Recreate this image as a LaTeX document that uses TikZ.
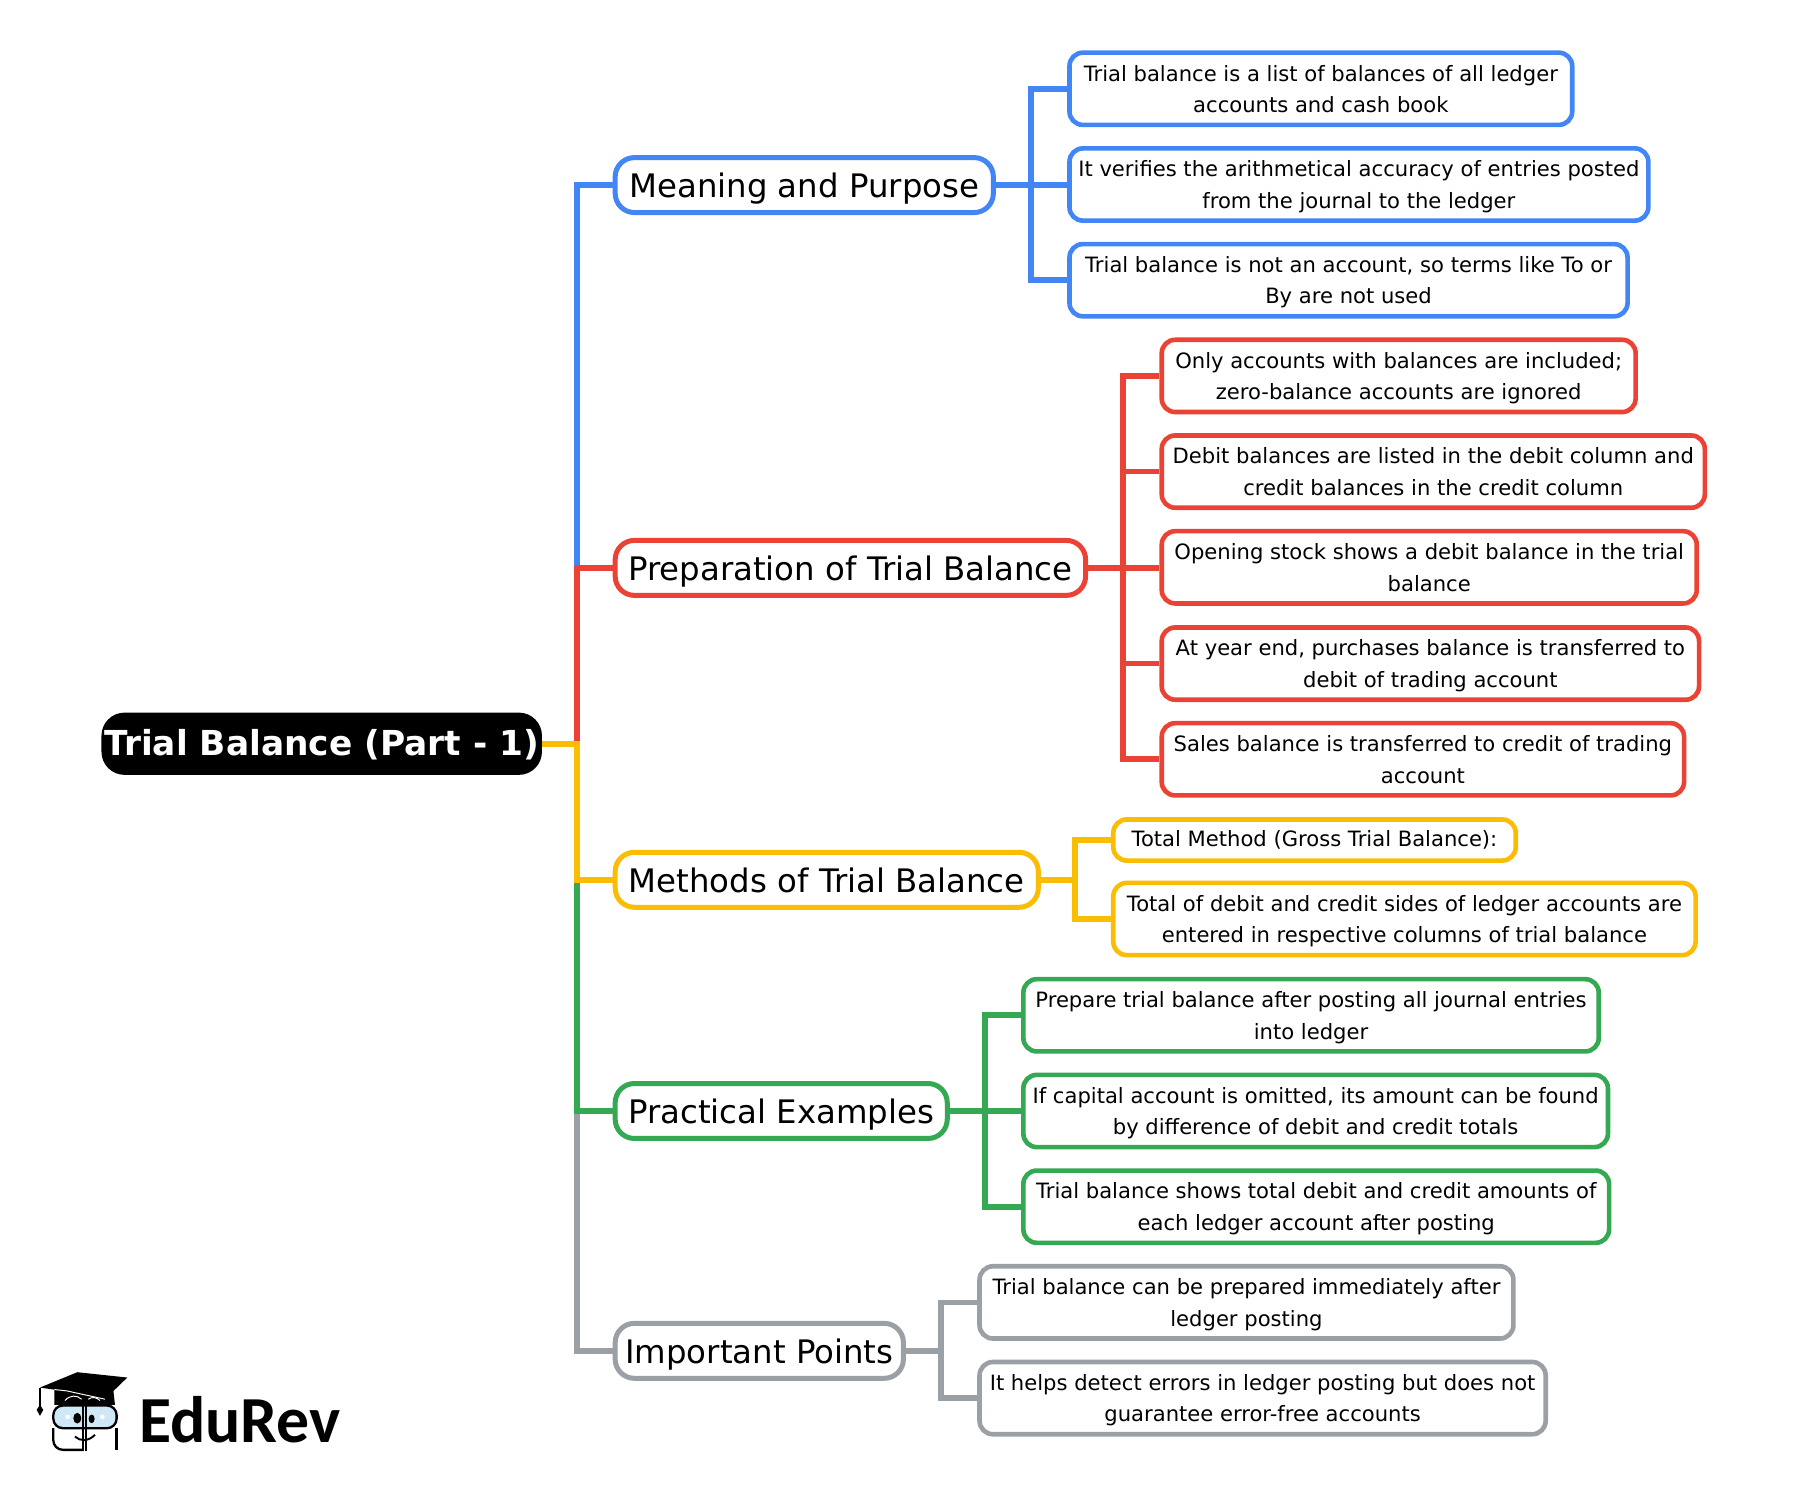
\documentclass[tikz,border=0pt]{standalone}
\usepackage{fontspec}
\setmainfont{DejaVu Sans}
\newfontfamily\logofont{Carlito}
\definecolor{mapblue}{HTML}{4285F4}
\definecolor{mapred}{HTML}{EA4335}
\definecolor{mapyellow}{HTML}{FBBC04}
\definecolor{mapgreen}{HTML}{34A853}
\definecolor{mapgray}{HTML}{9AA0A6}
\definecolor{glasses}{HTML}{CFE8F7}
\tikzset{
    rootbox/.style={fill=black, text=white, rounded corners=12pt, inner sep=0pt, minimum width=229.2pt, minimum height=32.4pt, text height=14pt, text depth=1.4pt, font=\fontsize{17.9}{20}\selectfont\bfseries},
    branchbox/.style={draw=#1, fill=white, line width=2.6pt, rounded corners=10pt, inner sep=0pt, minimum height=28.6pt, text height=14pt, text depth=1pt, font=\fontsize{16.85}{20}\selectfont},
    leafbox/.style={draw=#1, fill=white, line width=2.4pt, rounded corners=7pt, inner sep=0pt, minimum height=37.6pt, text depth=0pt, align=center, font=\fontsize{10.98}{16.4}\selectfont},
    link/.style={draw=#1, line width=3pt},
}
\begin{document}
\begin{tikzpicture}[x=0.6pt, y=-0.6pt]
    \useasboundingbox (0,0) rectangle (1568,1289.6);

    %centre
    \node[rootbox] (root) at (279,645) {Trial Balance (Part - 1)};

    %branches
    \node[branchbox=mapblue, minimum width=196.8pt] (meaning) at (697.5,160.5) {Meaning and Purpose};
    \node[branchbox=mapred, minimum width=244.8pt] (preparation) at (737.5,492.5) {Preparation of Trial Balance};
    \node[branchbox=mapyellow, minimum width=220.2pt] (methods) at (717,763) {Methods of Trial Balance};
    \node[branchbox=mapgreen, minimum width=172.8pt] (practical) at (677.5,963.5) {Practical Examples};
    \node[branchbox=mapgray, minimum width=150pt] (important) at (658.5,1171.5) {Important Points};

    %Meaning and Purpose
    \node[leafbox=mapblue, minimum width=261.6pt] (meaningA) at (1145.5,77) {Trial balance is a list of balances of all ledger\\accounts and cash book};
    \node[leafbox=mapblue, minimum width=301.2pt] (meaningB) at (1178.5,160) {It verifies the arithmetical accuracy of entries posted\\from the journal to the ledger};
    \node[leafbox=mapblue, minimum width=290.4pt] (meaningC) at (1169.5,243) {Trial balance is not an account, so terms like To or\\By are not used};

    %Preparation
    \node[leafbox=mapred, minimum width=246.6pt] (preparationA) at (1213,326) {Only accounts with balances are included;\\zero-balance accounts are ignored};
    \node[leafbox=mapred, minimum width=282.6pt] (preparationB) at (1243,409) {Debit balances are listed in the debit column and\\credit balances in the credit column};
    \node[leafbox=mapred, minimum width=278.4pt] (preparationC) at (1239.5,492) {Opening stock shows a debit balance in the trial\\balance};
    \node[leafbox=mapred, minimum width=279.6pt] (preparationD) at (1240.5,575.5) {At year end, purchases balance is transferred to\\debit of trading account};
    \node[leafbox=mapred, minimum width=271.8pt] (preparationE) at (1234,658.5) {Sales balance is transferred to credit of trading\\account};

    %Methods
    \node[leafbox=mapyellow, minimum width=209.4pt, minimum height=21.4pt, text depth=2pt] (methodsA) at (1140,728.5) {Total Method (Gross Trial Balance):};
    \node[leafbox=mapyellow, minimum width=303pt] (methodsB) at (1218,797) {Total of debit and credit sides of ledger accounts are\\entered in respective columns of trial balance};

    %Practical Examples
    \node[leafbox=mapgreen, minimum width=299.4pt] (practicalA) at (1137,880.5) {Prepare trial balance after posting all journal entries\\into ledger};
    \node[leafbox=mapgreen, minimum width=304.2pt] (practicalB) at (1141,963.5) {If capital account is omitted, its amount can be found\\by difference of debit and credit totals};
    \node[leafbox=mapgreen, minimum width=304.8pt] (practicalC) at (1141.5,1046.5) {Trial balance shows total debit and credit amounts of\\each ledger account after posting};

    %Important Points
    \node[leafbox=mapgray, minimum width=277.8pt] (importantA) at (1081,1129.5) {Trial balance can be prepared immediately after\\ledger posting};
    \node[leafbox=mapgray, minimum width=294.6pt] (importantB) at (1095,1212.5) {It helps detect errors in ledger posting but does not\\guarantee error-free accounts};

    %trunk
    \coordinate (trunk) at (500.5,645);
    \draw[link=mapgray] (practical.west -| trunk) |- (important.west);
    \draw[link=mapgreen] (methods.west -| trunk) |- (practical.west);
    \draw[link=mapblue] (preparation.west -| trunk) |- (meaning.west);
    \draw[link=mapred] (trunk) |- (preparation.west);
    \draw[link=mapyellow] (root.east) -- (trunk) |- (methods.west);

    %spines
    \coordinate (spineM) at (894,160.5);
    \draw[link=mapblue] (meaning.east) -- (meaning.east -| meaningB.west);
    \draw[link=mapblue] (meaningA.west) -| (spineM) |- (meaningC.west);
    \coordinate (spineP) at (974,492.5);
    \draw[link=mapred] (preparation.east) -- (preparation.east -| preparationC.west);
    \draw[link=mapred] (preparationA.west) -| (spineP) |- (preparationE.west);
    \draw[link=mapred] (preparationB.west) -- (preparationB.west -| spineP);
    \draw[link=mapred] (preparationD.west) -- (preparationD.west -| spineP);
    \coordinate (spineT) at (932,763);
    \draw[link=mapyellow] (methods.east) -- (spineT);
    \draw[link=mapyellow] (methodsA.west) -| (spineT) |- (methodsB.west);
    \coordinate (spineE) at (854,963.5);
    \draw[link=mapgreen] (practical.east) -- (practicalB.west);
    \draw[link=mapgreen] (practicalA.west) -| (spineE) |- (practicalC.west);
    \coordinate (spineI) at (816,1171.5);
    \draw[link=mapgray] (important.east) -- (spineI);
    \draw[link=mapgray] (importantA.west) -| (spineI) |- (importantB.west);

    %logo
    \node[font=\logofont\bfseries\fontsize{34.2}{36}\selectfont, inner sep=0pt] (logotext) at (208,1231) {EduRev};
    \begin{scope}[shift={(0,1162)}, scale=0.289]
        \fill[black] (163,150) -- (163,195) -- (345,195) -- (340,150) -- cycle;
        \fill[black] (120,143) -- (232,97) -- (382,113) -- (315,178) -- (200,155) -- cycle;
        \draw[white, line width=.5pt] (163,149) -- (200,153) -- (315,178);
        \draw[black, line width=.8pt] (120,143) -- (120,198);
        \fill[black] (120,195) -- (130,210) -- (120,228) -- (110,210) -- cycle;
        \draw[white, line width=.5pt] (195,182) .. controls (210,165) and (230,165) .. (245,178);
        \draw[white, line width=.5pt] (265,178) .. controls (275,170) and (290,172) .. (300,182);
        \draw[black, line width=1.2pt, fill=glasses, rounded corners=5pt] (160,197) rectangle (350,265);
        \draw[black, line width=1.2pt, rounded corners=5pt] (160,265) -- (160,330) -- (250,330);
        \draw[black, line width=1.2pt, rounded corners=5pt] (350,265) -- (350,330);
        \draw[black, line width=1.2pt] (250,197) -- (250,333);
        \draw[black, line width=1.2pt] (258,197) -- (258,333);
        \fill[black] (232,235) ellipse [x radius=12, y radius=16];
        \fill[black] (275,237) ellipse [x radius=9, y radius=13];
        \fill[white] (203,231) circle (7);
        \fill[white] (307,231) circle (7);
        \draw[black, line width=1pt] (225,290) .. controls (240,305) and (265,305) .. (285,285);
    \end{scope}
\end{tikzpicture}
\end{document}
